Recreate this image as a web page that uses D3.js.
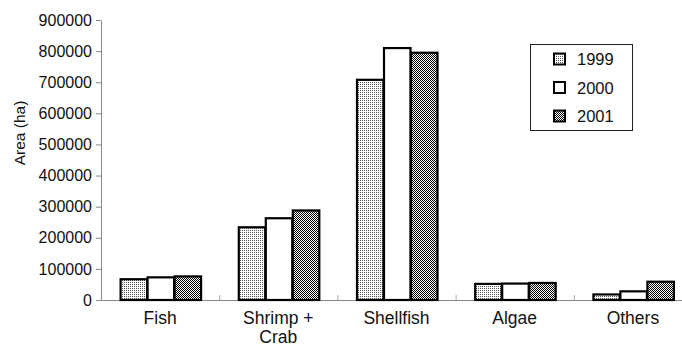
<!DOCTYPE html>
<html><head><meta charset="utf-8">
<script src="https://cdn.jsdelivr.net/npm/d3@7"></script>
<style>body{margin:0;background:#fff}svg{display:block}text{font-family:"Liberation Sans",Arial,sans-serif;fill:#111}</style>
</head><body><svg id="c" width="682" height="347"></svg>
<script>
const categories = ["Fish", "Shrimp +\nCrab", "Shellfish", "Algae", "Others"];
const years = ["1999", "2000", "2001"];
const v1999 = [70000, 237000, 711000, 55000, 21000];
const v2000 = [76000, 266000, 813000, 56000, 31000];
const v2001 = [79000, 291000, 798000, 58000, 62000];
const yTicks = [0, 100000, 200000, 300000, 400000, 500000, 600000, 700000, 800000, 900000];

const series = [v1999, v2000, v2001];
const svg = d3.select("#c");
const defs = svg.append("defs");
// 1999: sparse dots
const p1 = defs.append("pattern").attr("id","p1999").attr("width",2).attr("height",2).attr("patternUnits","userSpaceOnUse");
p1.append("rect").attr("width",2).attr("height",2).attr("fill","#fff");
p1.append("rect").attr("width",1).attr("height",1).attr("fill","#555");
// 2001: checkerboard
const p3 = defs.append("pattern").attr("id","p2001").attr("width",2).attr("height",2).attr("patternUnits","userSpaceOnUse");
p3.append("rect").attr("width",2).attr("height",2).attr("fill","#fff");
p3.append("rect").attr("width",1).attr("height",1).attr("fill","#000");
p3.append("rect").attr("x",1).attr("y",1).attr("width",1).attr("height",1).attr("fill","#000");
const fills = ["url(#p1999)", "#fff", "url(#p2001)"];

const x0 = 101, x1 = 692, yTop = 20, yBot = 300;
const x = d3.scaleBand().domain(d3.range(categories.length)).range([x0, x1]);
const xs = d3.scaleBand().domain(d3.range(years.length)).range([0, 81]);
const y = d3.scaleLinear().domain([0, 900000]).range([yBot, yTop]);

// y axis
const ya = svg.append("g").attr("transform",`translate(${x0},0)`)
  .call(d3.axisLeft(y).tickValues(yTicks).tickFormat(d3.format("d")).tickSize(5).tickSizeOuter(0));
ya.select(".domain").attr("stroke","#888");
ya.selectAll(".tick line").attr("stroke","#888");
ya.selectAll(".tick text").attr("font-size",16).attr("x",-9).attr("fill","#111");

// x axis baseline and separators
const xa = svg.append("g").attr("transform",`translate(0,${yBot})`)
  .call(d3.axisBottom(d3.scaleLinear().domain([0,categories.length]).range([x0,x1])).tickValues(d3.range(1,categories.length)).tickSize(-5).tickSizeOuter(0).tickFormat(""));
xa.select(".domain").attr("stroke","#888");
xa.selectAll(".tick line").attr("stroke","#aaa");

// bars
categories.forEach((c, i) => {
  const gx = x(i) + (x.bandwidth() - 81) / 2;
  series.forEach((s, j) => {
    svg.append("rect")
      .attr("x", gx + xs(j) + 1).attr("y", y(s[i]) + 1)
      .attr("width", xs.bandwidth() - 0.5).attr("height", yBot - y(s[i]) - 1)
      .attr("fill", fills[j]).attr("stroke", "#000").attr("stroke-width", 2.2);
  });
  const lines = c.split("\n");
  const t = svg.append("text").attr("text-anchor","middle").attr("font-size",17.5);
  lines.forEach((l, k) => t.append("tspan").attr("x", x(i) + x.bandwidth()/2).attr("y", 324 + k*18.5).text(l));
});

// axis title
svg.append("text").attr("transform","translate(25,133) rotate(-90)").attr("text-anchor","middle").attr("font-size",15.5).text("Area (ha)");

// legend
const lg = svg.append("g");
lg.append("rect").attr("x",530.5).attr("y",44.5).attr("width",102).attr("height",86).attr("fill","#fff").attr("stroke","#222").attr("stroke-width",1);
years.forEach((yr, j) => {
  const cy = 59 + j * 28.5;
  lg.append("rect").attr("x",554).attr("y",cy-5.5).attr("width",11).attr("height",11).attr("fill",fills[j]).attr("stroke","#000").attr("stroke-width",2);
  lg.append("text").attr("x",577).attr("y",cy+6).attr("font-size",16.5).text(yr);
});
</script></body></html>
